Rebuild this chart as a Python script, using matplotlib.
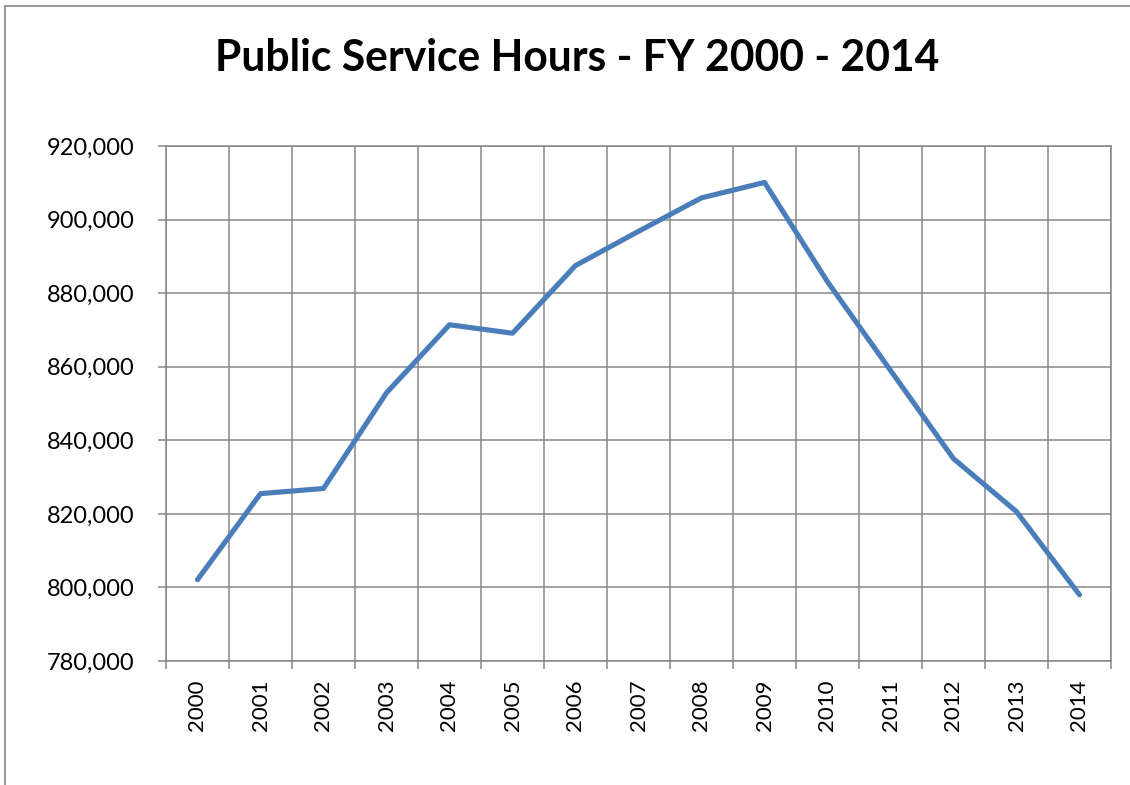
import matplotlib
matplotlib.use("Agg")
import matplotlib.pyplot as plt
from matplotlib.lines import Line2D
from matplotlib.ticker import FuncFormatter, MultipleLocator

years = ["2000", "2001", "2002", "2003", "2004", "2005", "2006", "2007",
         "2008", "2009", "2010", "2011", "2012", "2013", "2014"]
hours = [802100, 825500, 826900, 852900, 871400, 869100, 887500, 896800,
         905900, 910100, 883100, 859000, 835000, 820600, 798000]
title = "Public Service Hours - FY 2000 - 2014"

plt.rcParams['font.family'] = ['Lato', 'DejaVu Sans']

W, H = 1130, 785
fig = plt.figure(figsize=(W / 100, H / 100), dpi=100)
ax = fig.add_axes([166 / W, 1 - 661 / H, (1111 - 166) / W, (661 - 146) / H])

x = list(range(len(years)))
ax.plot(x, hours, color="#4A7EBB", lw=3.7, solid_capstyle="round",
        solid_joinstyle="round", zorder=3)

ax.set_xlim(-0.5, len(years) - 0.5)
ax.set_ylim(780000, 920000)
ax.yaxis.set_major_locator(MultipleLocator(20000))
ax.yaxis.set_major_formatter(FuncFormatter(lambda v, p: f"{int(v):,}"))

ax.set_xticks([i - 0.5 for i in range(len(years) + 1)])
ax.set_xticklabels([])
ax.set_xticks(x, minor=True)
ax.set_xticklabels(years, minor=True, rotation=90, fontsize=16)
ax.tick_params(axis="x", which="minor", length=0, pad=13)
ax.tick_params(axis="x", which="major", length=5.8, color="#878787", width=1.1)
ax.tick_params(axis="y", length=5.8, color="#878787", width=1.1, labelsize=17, pad=17)

ax.grid(True, which="major", color="#878787", lw=1.1)
ax.set_axisbelow(True)
for s in ax.spines.values():
    s.set_color("#878787")
    s.set_linewidth(1.1)

fig.text(577 / W, 1 - 58 / H, title, ha="center", va="center",
         fontsize=30.7, fontweight="bold")

fig.add_artist(Line2D([4.5 / W, 4.5 / W], [0, 1 - 6 / H], transform=fig.transFigure,
                      color="#878787", lw=1.2))
fig.add_artist(Line2D([4.5 / W, 1], [1 - 6 / H, 1 - 6 / H], transform=fig.transFigure,
                      color="#878787", lw=1.2))

fig.savefig("out.png", dpi=100)
